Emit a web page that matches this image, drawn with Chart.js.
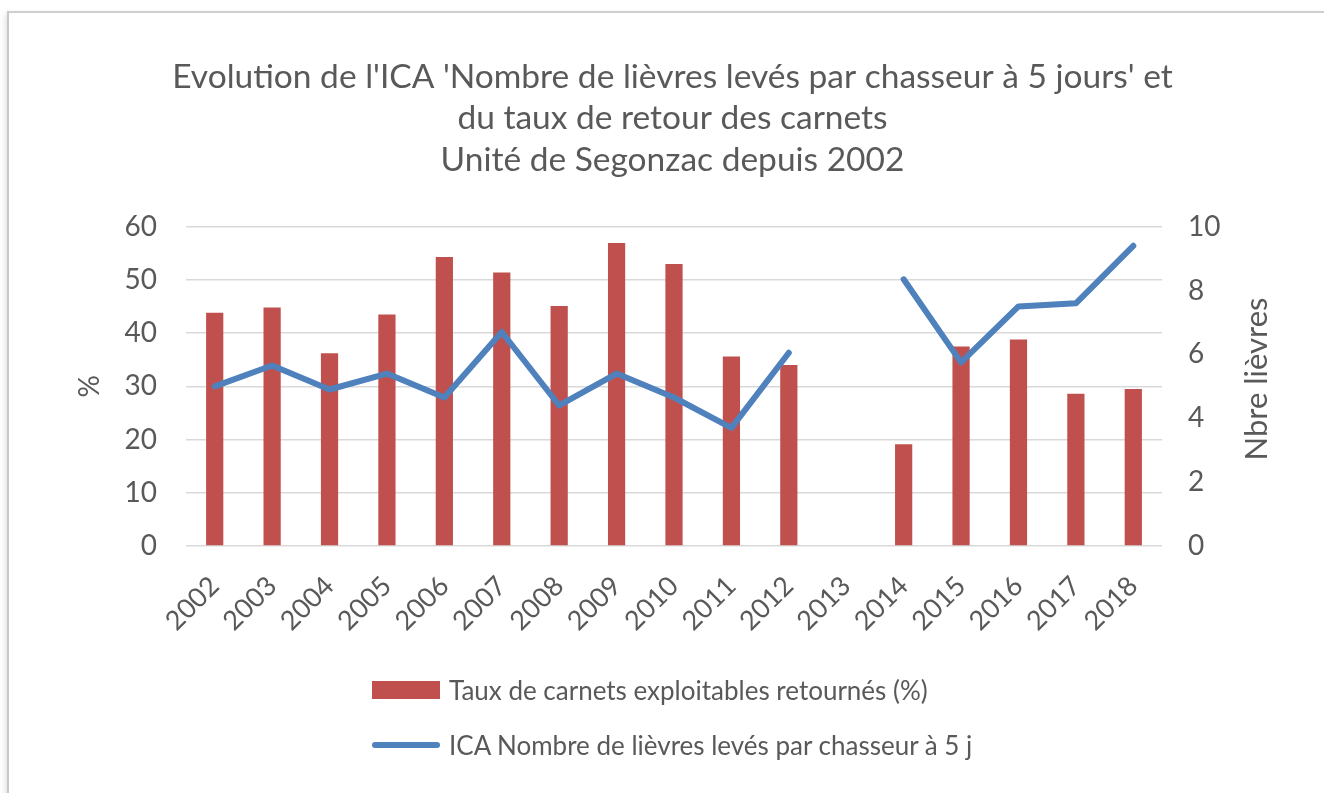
<!DOCTYPE html>
<html>
<head>
<meta charset="utf-8">
<script src="https://cdn.jsdelivr.net/npm/chart.js@4"></script>
<style>
  html, body { margin: 0; padding: 0; background: #fff; }
  body { width: 1324px; height: 793px; position: relative; overflow: hidden; font-family: Lato, Carlito, Calibri, sans-serif; }
  .frame { position: absolute; left: 7px; top: 11px; width: 1330px; height: 800px;
    border-left: 2px solid #c8c8c8; border-top: 2px solid #cfcfcf; box-shadow: -4px 0 6px -3px rgba(0,0,0,0.15); }
  #wrap { position: absolute; left: 0; top: 0; width: 1324px; height: 793px; }
  .legend { position: absolute; left: 372px; top: 674px; color: #595959; font-size: 26px; }
  .legend .item { display: flex; align-items: center; height: 32px; margin-bottom: 23px; }
  .legend .swatch { width: 68px; margin-right: 9px; }
</style>
</head>
<body>
<div class="frame"></div>
<div id="wrap"><canvas id="chart" width="1324" height="793"></canvas></div>
<div class="legend" id="legend"></div>
<script>
// Data
const years = ['2002','2003','2004','2005','2006','2007','2008','2009','2010','2011','2012','2013','2014','2015','2016','2017','2018'];
const tauxRetour = [43.8, 44.8, 36.2, 43.5, 54.3, 51.4, 45.1, 56.9, 53.0, 35.6, 34.0, null, 19.1, 37.5, 38.8, 28.6, 29.5];
const icaLievres = [5.0, 5.65, 4.9, 5.4, 4.65, 6.7, 4.4, 5.4, 4.65, 3.7, 6.05, null, 8.35, 5.75, 7.5, 7.6, 9.4];
const leftTicks = [0, 10, 20, 30, 40, 50, 60];
const rightTicks = [0, 2, 4, 6, 8, 10];

const barColor = '#C0504D';
const lineColor = '#4F81BD';
const textColor = '#595959';
const fontFamily = 'Lato, Carlito, Calibri, sans-serif';

const titleLines = [
  "Evolution de l'ICA 'Nombre de lièvres levés par chasseur à 5 jours' et",
  "du taux de retour des carnets",
  "Unité de Segonzac depuis 2002"
];

// right axis title reads bottom-to-top, so draw it ourselves
const rightTitlePlugin = {
  id: 'rightTitle',
  afterDraw(chart) {
    const ctx = chart.ctx;
    const area = chart.chartArea;
    ctx.save();
    ctx.translate(1257, 379);
    ctx.rotate(-Math.PI / 2);
    ctx.fillStyle = textColor;
    ctx.font = '31px ' + fontFamily;
    ctx.textAlign = 'center';
    ctx.textBaseline = 'middle';
    ctx.fillText('Nbre lièvres', 0, 0);
    ctx.restore();
  }
};

const ctx = document.getElementById('chart').getContext('2d');
const chart = new Chart(ctx, {
  data: {
    labels: years,
    datasets: [
      {
        type: 'line',
        label: 'ICA Nombre de lièvres levés par chasseur à 5 j',
        data: icaLievres,
        yAxisID: 'y1',
        borderColor: lineColor,
        backgroundColor: lineColor,
        borderWidth: 6,
        borderJoinStyle: 'round',
        borderCapStyle: 'round',
        pointRadius: 0,
        tension: 0,
        spanGaps: false,
        order: 0
      },
      {
        type: 'bar',
        label: 'Taux de carnets exploitables retournés (%)',
        data: tauxRetour,
        yAxisID: 'y',
        backgroundColor: barColor,
        barPercentage: 0.6,
        categoryPercentage: 0.5,
        order: 1
      }
    ]
  },
  options: {
    responsive: false,
    animation: false,
    layout: { padding: { top: 10, left: 40, right: 19, bottom: 147 } },
    plugins: {
      legend: { display: false },
      tooltip: { enabled: false },
      title: {
        display: true,
        text: titleLines,
        color: textColor,
        font: { family: fontFamily, size: 33.5, weight: 'normal', lineHeight: 1.24 },
        padding: { top: 46, bottom: 46 }
      }
    },
    scales: {
      x: {
        grid: { display: false, drawTicks: false },
        border: { display: false },
        ticks: {
          color: textColor,
          font: { family: fontFamily, size: 27 },
          maxRotation: 45,
          minRotation: 45,
          padding: 24,
          autoSkip: false
        },
        afterFit(scale) { scale.height = 100; }
      },
      y: {
        position: 'left',
        min: 0,
        max: 60,
        afterBuildTicks(scale) { scale.ticks = leftTicks.map(v => ({ value: v })); },
        grid: { color: '#d9d9d9', lineWidth: 1.5, drawTicks: false },
        border: { display: false },
        ticks: { color: textColor, font: { family: fontFamily, size: 28 }, padding: 29 },
        title: { display: true, text: '%', color: textColor, font: { family: fontFamily, size: 28 }, padding: { top: 33, bottom: 0 } },
        afterFit(scale) { scale.width = 146; }
      },
      y1: {
        position: 'right',
        min: 0,
        max: 10,
        afterBuildTicks(scale) { scale.ticks = rightTicks.map(v => ({ value: v })); },
        grid: { display: false, drawTicks: false },
        border: { display: false },
        ticks: { color: textColor, font: { family: fontFamily, size: 28 }, padding: 26 },
        afterFit(scale) { scale.width = 143; }
      }
    }
  },
  plugins: [rightTitlePlugin]
});

// HTML legend, stacked vertically like the original
const legend = document.getElementById('legend');
const legendItems = [
  { label: chart.data.datasets[1].label, color: barColor, bar: true },
  { label: chart.data.datasets[0].label, color: lineColor, bar: false }
];
legendItems.forEach(item => {
  const row = document.createElement('div');
  row.className = 'item';
  const sw = document.createElement('div');
  sw.className = 'swatch';
  sw.style.background = item.color;
  sw.style.height = item.bar ? '18px' : '6px';
  if (!item.bar) sw.style.borderRadius = '3px';
  const txt = document.createElement('span');
  txt.textContent = item.label;
  row.appendChild(sw);
  row.appendChild(txt);
  legend.appendChild(row);
});
</script>
</body>
</html>
